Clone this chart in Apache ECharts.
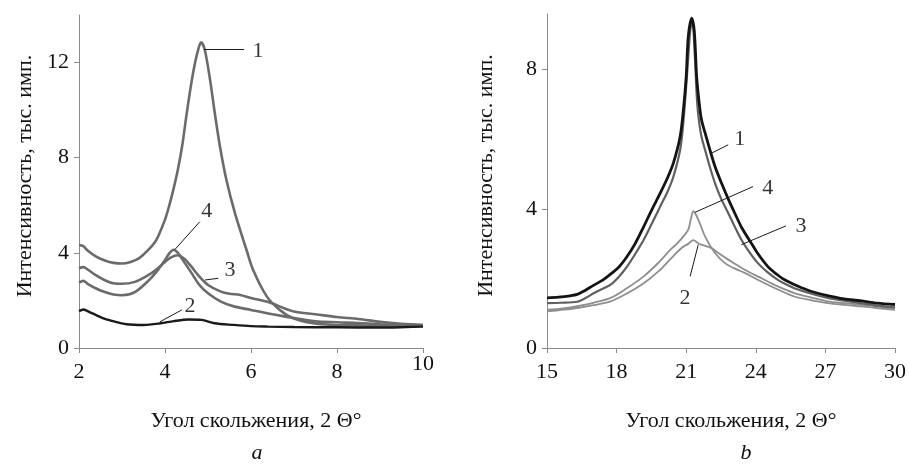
<!DOCTYPE html>
<html>
<head>
<meta charset="utf-8">
<script src="https://cdn.jsdelivr.net/npm/echarts@6/dist/echarts.min.js"></script>
<style>
html,body{margin:0;padding:0;background:#fff;}
#c{width:909px;height:464px;}
</style>
</head>
<body>
<div id="c"></div>
<script>
// ---------- Panel a (left) ----------
const a1x = [2.0, 2.1, 2.2, 2.4, 2.6, 2.8, 3.0, 3.2, 3.4, 3.6, 3.8, 4.0, 4.1, 4.2, 4.3, 4.4, 4.5, 4.6, 4.7, 4.78, 4.84, 4.93, 5.05, 5.16, 5.28, 5.43, 5.63, 5.9, 6.05, 6.37, 6.67, 6.98, 7.45, 7.9, 8.5, 9.0, 9.5, 10.0];
const a1y = [4.33, 4.28, 4.1, 3.84, 3.68, 3.58, 3.55, 3.62, 3.78, 4.1, 4.55, 5.4, 6.0, 6.7, 7.5, 8.5, 9.8, 11.0, 12.0, 12.6, 12.85, 12.5, 11.25, 9.85, 8.45, 7.05, 5.65, 4.1, 3.28, 2.16, 1.6, 1.25, 1.04, 0.97, 0.95, 0.93, 0.95, 0.97];

const a2x = [2.0, 2.1, 2.2, 2.4, 2.6, 2.85, 3.1, 3.5, 3.9, 4.2, 4.55, 4.85, 5.15, 5.6, 6.0, 6.4, 7.0, 8.0, 9.0, 9.6, 10.0];
const a2y = [1.55, 1.62, 1.55, 1.38, 1.22, 1.1, 1.0, 0.97, 1.04, 1.13, 1.2, 1.18, 1.04, 0.97, 0.92, 0.9, 0.88, 0.87, 0.86, 0.88, 0.9];

const a3x = [2.0, 2.1, 2.2, 2.4, 2.6, 2.8, 3.0, 3.3, 3.6, 3.8, 4.0, 4.15, 4.3, 4.45, 4.6, 4.8, 5.0, 5.3, 5.5, 5.75, 6.0, 6.4, 7.0, 7.5, 8.0, 8.5, 9.0, 9.5, 10.0];
const a3y = [3.35, 3.4, 3.3, 3.05, 2.85, 2.72, 2.7, 2.78, 3.05, 3.3, 3.62, 3.82, 3.9, 3.75, 3.45, 3.0, 2.65, 2.37, 2.28, 2.23, 2.1, 1.93, 1.53, 1.42, 1.3, 1.22, 1.1, 1.02, 0.97];

const a4x = [2.0, 2.1, 2.2, 2.4, 2.6, 2.8, 3.0, 3.3, 3.6, 3.8, 4.0, 4.1, 4.2, 4.3, 4.45, 4.6, 4.8, 5.0, 5.3, 5.6, 6.0, 6.4, 6.8, 7.5, 8.0, 8.5, 9.0, 10.0];
const a4y = [2.75, 2.82, 2.7, 2.5, 2.35, 2.25, 2.22, 2.35, 2.8, 3.2, 3.7, 3.98, 4.13, 4.0, 3.6, 3.2, 2.65, 2.3, 1.95, 1.75, 1.6, 1.45, 1.32, 1.12, 1.08, 1.05, 1.0, 0.95];

const aXTicks = [2, 4, 6, 8, 10];
const aYTicks = [0, 4, 8, 12];

// leader lines & numbers for panel a (data coordinates)
const aLeaders = [[[4.91, 12.55], [5.84, 12.55]], [[4.23, 4.14], [4.81, 5.31]], [[4.93, 2.86], [5.24, 2.93]], [[3.88, 1.1], [4.39, 1.6]]];
const aNumbers = [['1', 6.16, 12.49], ['4', 4.97, 5.73], ['3', 5.51, 3.28], ['2', 4.58, 1.76]];

// ---------- Panel b (right) ----------
const b1x = [15, 15.5, 16.0, 16.3, 16.6, 17.0, 17.4, 17.7, 18.1, 18.45, 18.8, 19.17, 19.5, 19.88, 20.2, 20.45, 20.74, 20.88, 21.0, 21.09, 21.24, 21.35, 21.45, 21.55, 21.66, 21.85, 22.02, 22.25, 22.52, 22.8, 23.09, 23.4, 23.8, 24.1, 24.52, 24.9, 25.24, 25.8, 26.37, 27.0, 27.8, 28.5, 29.23, 30];
const b1y = [1.44, 1.46, 1.5, 1.54, 1.64, 1.8, 1.95, 2.1, 2.33, 2.63, 3.0, 3.49, 3.95, 4.45, 4.9, 5.32, 6.08, 6.85, 7.8, 8.95, 9.48, 9.1, 7.8, 7.1, 6.56, 6.1, 5.7, 5.2, 4.74, 4.3, 3.88, 3.45, 3.02, 2.7, 2.34, 2.12, 1.96, 1.78, 1.63, 1.52, 1.41, 1.36, 1.29, 1.25];

const b3x = [15, 15.6, 16.3, 16.7, 17.03, 17.4, 17.74, 18.1, 18.45, 18.8, 19.17, 19.5, 19.88, 20.2, 20.45, 20.74, 20.88, 21.03, 21.17, 21.26, 21.38, 21.45, 21.52, 21.65, 21.81, 22.0, 22.24, 22.5, 22.81, 23.1, 23.38, 23.7, 24.09, 24.5, 24.95, 25.3, 25.66, 26.4, 27.09, 27.8, 28.5, 29.2, 30];
const b3y = [1.29, 1.3, 1.33, 1.45, 1.58, 1.7, 1.82, 2.05, 2.34, 2.7, 3.11, 3.55, 4.07, 4.5, 4.93, 5.7, 6.5, 7.8, 9.1, 9.42, 8.3, 7.3, 6.7, 6.1, 5.7, 5.25, 4.74, 4.3, 3.88, 3.48, 3.11, 2.78, 2.44, 2.18, 1.96, 1.83, 1.72, 1.56, 1.44, 1.36, 1.29, 1.22, 1.17];

const b4x = [15, 15.7, 16.3, 17.0, 17.74, 18.4, 19.17, 19.8, 20.31, 20.6, 20.88, 21.09, 21.2, 21.31, 21.52, 21.81, 22.24, 22.67, 23.1, 23.52, 24.23, 24.95, 25.66, 26.4, 27.09, 27.8, 28.5, 29.2, 30];
const b4y = [1.1, 1.14, 1.2, 1.3, 1.44, 1.7, 2.06, 2.45, 2.82, 3.0, 3.21, 3.4, 3.7, 3.93, 3.69, 3.21, 2.73, 2.44, 2.28, 2.16, 1.91, 1.68, 1.48, 1.37, 1.29, 1.24, 1.2, 1.15, 1.1];

const b2x = [15, 15.7, 16.3, 17.0, 17.74, 18.4, 19.17, 19.8, 20.31, 20.81, 21.1, 21.31, 21.5, 21.66, 22.09, 22.45, 22.81, 23.15, 23.52, 24.23, 24.95, 25.66, 26.4, 27.09, 27.8, 28.5, 29.2, 30];
const b2y = [1.05, 1.1, 1.15, 1.23, 1.34, 1.55, 1.86, 2.2, 2.55, 2.88, 3.0, 3.1, 3.02, 2.97, 2.87, 2.7, 2.54, 2.4, 2.25, 2.01, 1.77, 1.58, 1.45, 1.34, 1.29, 1.25, 1.2, 1.15];

const bXTicks = [15, 18, 21, 24, 27, 30];
const bYTicks = [0, 4, 8];

const bLeaders = [[[22.09, 5.6], [22.81, 5.84]], [[21.38, 3.9], [23.88, 4.64]], [[23.38, 2.97], [25.3, 3.51]], [[21.17, 2.06], [21.52, 2.97]]];
const bNumbers = [['1', 23.31, 5.99], ['4', 24.52, 4.6], ['3', 25.95, 3.51], ['2', 20.95, 1.44]];

const yName = 'Интенсивность, тыс. имп.';
const xName = 'Угол скольжения, 2 Θ°';

// ---------- build ----------
const FONT = '"Liberation Serif", "DejaVu Serif", serif';
function zip(xs, ys) { return xs.map((x, i) => [x, ys[i]]); }

function curve(xs, ys, idx, color, width, z) {
  return {
    type: 'line', xAxisIndex: idx, yAxisIndex: idx, data: zip(xs, ys),
    showSymbol: false, symbol: 'none', smooth: 0.3, z: z || 2,
    lineStyle: { color: color, width: width }, silent: true, animation: false
  };
}
function leaderSeries(list, idx) {
  return list.map(seg => ({
    type: 'line', xAxisIndex: idx, yAxisIndex: idx, data: seg, symbol: 'none',
    lineStyle: { color: '#1a1a1a', width: 1 }, z: 5, silent: true, animation: false
  }));
}
function numberSeries(list, idx) {
  return {
    type: 'scatter', xAxisIndex: idx, yAxisIndex: idx, symbolSize: 0, z: 6,
    data: list.map(n => ({ name: n[0], value: [n[1], n[2]] })),
    label: { show: true, position: [0, 0], align: 'center', verticalAlign: 'middle', formatter: '{b}', color: '#000', fontFamily: FONT, fontSize: 22 },
    silent: true, animation: false
  };
}
function xAxisCfg(idx, min, max, interval, ticks, raisedLast) {
  return {
    type: 'value', gridIndex: idx, min: min, max: max, interval: interval,
    axisLine: { show: true, onZero: false, lineStyle: { color: '#8a8a8a', width: 1 } },
    axisTick: { show: true, inside: false, length: 5, lineStyle: { color: '#8a8a8a' } },
    splitLine: { show: false },
    axisLabel: {
      margin: 13, color: '#111', fontFamily: FONT, fontSize: 22,
      formatter: v => (raisedLast && v === ticks[ticks.length - 1]) ? '{u|' + v + '}' : (ticks.indexOf(v) >= 0 ? String(v) : ''),
      rich: { u: { lineHeight: 6, fontFamily: FONT, fontSize: 22, color: '#111' } }
    }
  };
}
function yAxisCfg(idx, max, ticks, gap) {
  return {
    type: 'value', gridIndex: idx, min: 0, max: max, interval: 4,
    name: yName, nameLocation: 'middle', nameGap: gap,
    nameTextStyle: { fontFamily: FONT, fontSize: 22, color: '#111', padding: [0, 0, 0, 11] },
    axisLine: { show: true, lineStyle: { color: '#8a8a8a', width: 1 } },
    axisTick: { show: true, inside: false, length: 5, lineStyle: { color: '#8a8a8a' } },
    splitLine: { show: false },
    axisLabel: {
      margin: 10, color: '#111', fontFamily: FONT, fontSize: 22, showMaxLabel: false,
      formatter: v => ticks.indexOf(v) >= 0 ? String(v) : ''
    }
  };
}

const series = [
  curve(a1x, a1y, 0, '#6b6b6b', 2.6),
  curve(a3x, a3y, 0, '#6b6b6b', 2.6),
  curve(a4x, a4y, 0, '#6b6b6b', 2.6),
  curve(a2x, a2y, 0, '#1a1a1a', 2.4, 3),
  ...leaderSeries(aLeaders, 0),
  numberSeries(aNumbers, 0),
  curve(b2x, b2y, 1, '#8e8e8e', 1.8),
  curve(b4x, b4y, 1, '#8e8e8e', 1.8),
  curve(b3x, b3y, 1, '#606060', 2.2),
  curve(b1x, b1y, 1, '#141414', 2.8, 3),
  ...leaderSeries(bLeaders, 1),
  numberSeries(bNumbers, 1)
];

const chart = echarts.init(document.getElementById('c'), null, { renderer: 'canvas' });
chart.setOption({
  backgroundColor: '#ffffff',
  animation: false,
  grid: [
    { left: 79, top: 15, width: 344, height: 333 },
    { left: 547, top: 14, width: 351, height: 334 }
  ],
  xAxis: [
    xAxisCfg(0, 2, 10, 2, aXTicks, true),
    xAxisCfg(1, 15, 30, 3, bXTicks, false)
  ],
  yAxis: [
    yAxisCfg(0, 14, aYTicks, 43),
    yAxisCfg(1, 9.6, bYTicks, 50)
  ],
  title: [
    { text: xName, left: 256, top: 410, textAlign: 'center', padding: 0, textStyle: { fontFamily: FONT, fontSize: 22, fontWeight: 'normal', color: '#111' } },
    { text: 'a', left: 257, top: 442, textAlign: 'center', padding: 0, textStyle: { fontFamily: FONT, fontSize: 22, fontStyle: 'italic', fontWeight: 'normal', color: '#111' } },
    { text: xName, left: 731, top: 410, textAlign: 'center', padding: 0, textStyle: { fontFamily: FONT, fontSize: 22, fontWeight: 'normal', color: '#111' } },
    { text: 'b', left: 746, top: 442, textAlign: 'center', padding: 0, textStyle: { fontFamily: FONT, fontSize: 22, fontStyle: 'italic', fontWeight: 'normal', color: '#111' } }
  ],
  series: series
});
</script>
</body>
</html>
